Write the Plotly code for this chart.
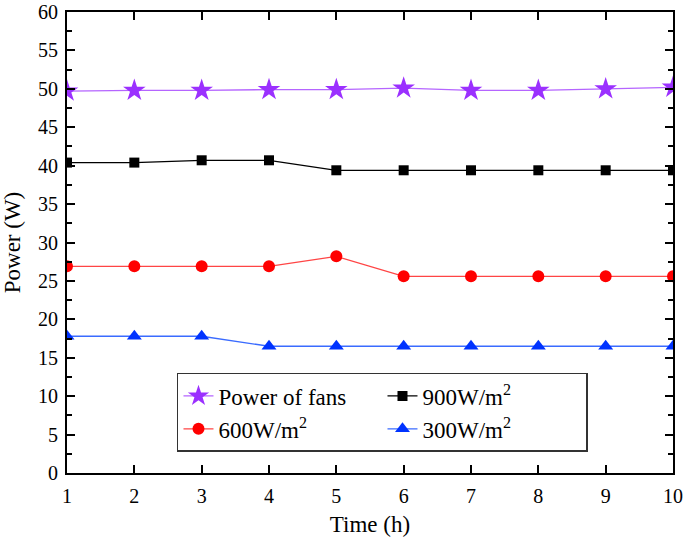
import plotly.graph_objects as go

hours = [1, 2, 3, 4, 5, 6, 7, 8, 9, 10]
fans = [49.7, 49.8, 49.8, 49.9, 49.9, 50.1, 49.8, 49.8, 50.0, 50.2]
s900 = [40.4, 40.4, 40.7, 40.7, 39.4, 39.4, 39.4, 39.4, 39.4, 39.4]
s600 = [26.9, 26.9, 26.9, 26.9, 28.2, 25.6, 25.6, 25.6, 25.6, 25.6]
s300 = [17.8, 17.8, 17.8, 16.5, 16.5, 16.5, 16.5, 16.5, 16.5, 16.5]

FONT = "Liberation Serif"

fig = go.Figure()
fig.add_trace(go.Scatter(x=hours, y=fans, name="Power of fans", mode="lines+markers",
                         line=dict(color="#B565FF", width=1.3),
                         marker=dict(symbol="star", size=17, color="#9B30FF")))
fig.add_trace(go.Scatter(x=hours, y=s900, name="900W/m<sup>2</sup>", mode="lines+markers",
                         line=dict(color="#000000", width=1.2),
                         marker=dict(symbol="square", size=10, color="#000000")))
fig.add_trace(go.Scatter(x=hours, y=s600, name="600W/m<sup>2</sup>", mode="lines+markers",
                         line=dict(color="#FF4545", width=1.3),
                         marker=dict(symbol="circle", size=12, color="#FF0000")))
fig.add_trace(go.Scatter(x=hours, y=s300, name="300W/m<sup>2</sup>", mode="lines+markers",
                         line=dict(color="#3A6BFF", width=1.3),
                         marker=dict(symbol="triangle-up", size=13, color="#0033FF")))

axis_common = dict(
    showline=True, linecolor="black", linewidth=2, mirror="ticks",
    ticks="inside", ticklen=8, tickwidth=2, tickcolor="black",
    showgrid=False, zeroline=False, automargin=False,
    tickfont=dict(family=FONT, size=20, color="black"),
)

fig.update_xaxes(range=[1, 10], tickmode="linear", tick0=1, dtick=1,
                 ticklabelstandoff=4,
                 title=dict(text="Time (h)", font=dict(family=FONT, size=23, color="black")),
                 **axis_common)
fig.update_yaxes(range=[0, 60], tickmode="linear", tick0=0, dtick=5,
                 ticklabelstandoff=3,
                 minor=dict(ticks="inside", ticklen=5, tickwidth=1.5, tickcolor="black", dtick=2.5),
                 title=dict(text="Power (W)", font=dict(family=FONT, size=23, color="black")),
                 **axis_common)

fig.update_layout(
    width=685, height=537,
    margin=dict(l=67, r=12, t=12, b=64),
    plot_bgcolor="white", paper_bgcolor="white",
    font=dict(family=FONT, color="black"),
    showlegend=True,
    legend=dict(orientation="h", x=0.1815, y=0.217, xanchor="left", yanchor="top",
                entrywidth=159, entrywidthmode="pixels",
                bordercolor="#333333", borderwidth=1.5, bgcolor="white",
                font=dict(family=FONT, size=23, color="black"),
                tracegroupgap=0),
)

fig.write_html("out.html", config={"displayModeBar": False},
               post_script="document.body.style.margin='0';document.body.style.overflow='hidden';")
